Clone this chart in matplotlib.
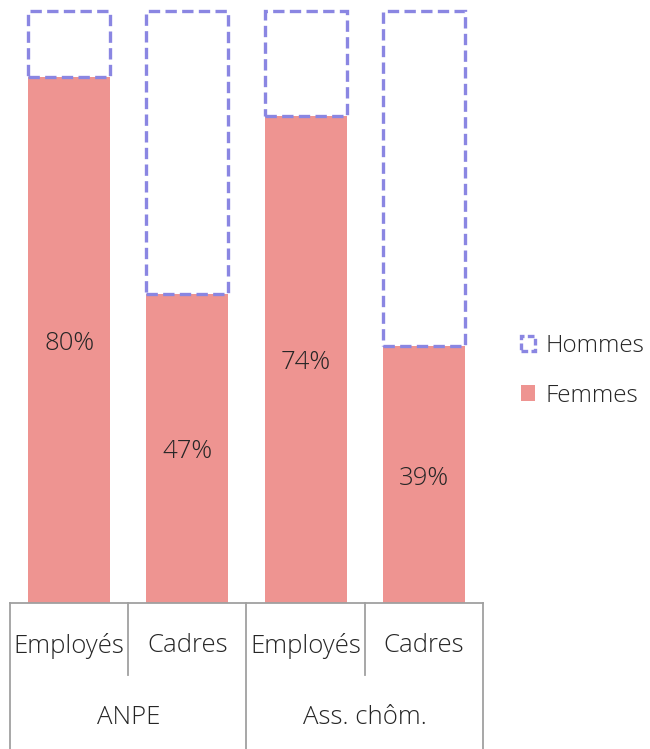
import matplotlib.pyplot as plt
from matplotlib.patches import Patch
from matplotlib.lines import Line2D

groups = ['ANPE', 'Ass. chôm.']
categories = ['Employés', 'Cadres', 'Employés', 'Cadres']
femmes = [0.80, 0.47, 0.74, 0.39]
hommes = [0.20, 0.53, 0.26, 0.61]
femmes_labels = ['80%', '47%', '74%', '39%']

c_fem = '#EE9491'
c_hom = '#8A86E2'
c_grid = '#A0A0A0'
c_text = '#262626'
ymax = 0.9
fs = 18.5

plt.rcParams['font.family'] = ['Open Sans', 'DejaVu Sans']
plt.rcParams['font.weight'] = 'light'

fig = plt.figure(figsize=(6.5, 7.49), dpi=100)
ax = fig.add_axes([10 / 650, 146 / 749, 473 / 650, 592 / 749])

x = range(len(categories))
w = 0.693
ax.bar(x, femmes, width=w, color=c_fem, zorder=2)
for i in x:
    # hommes segment, cut at the top of the axis like the original
    h = min(femmes[i] + hommes[i], ymax) - femmes[i]
    ax.bar(i, h, bottom=femmes[i], width=w, facecolor='none', edgecolor=c_hom,
           linewidth=2.4, linestyle=(0, (3.4, 1.6)), zorder=3, clip_on=False)
    ax.text(i, femmes[i] / 2 - 0.005, femmes_labels[i], ha='center', va='center',
            fontsize=fs, color=c_text)

ax.set_xlim(-0.5, len(categories) - 0.5)
ax.set_ylim(0, ymax)
ax.axis('off')

# two-level category axis
lines = [((-0.5, 3.5), (0, 0)),
         ((-0.5, -0.5), (0, -0.2466)),
         ((3.5, 3.5), (0, -0.2466)),
         ((1.5, 1.5), (0, -0.2466)),
         ((0.5, 0.5), (0, -0.1216)),
         ((2.5, 2.5), (0, -0.1216))]
for xs, ys in lines:
    ax.add_line(Line2D(xs, ys, color=c_grid, lw=1.3, transform=ax.get_xaxis_transform(),
                       clip_on=False, zorder=4))
for i, c in enumerate(categories):
    ax.text(i, -0.0726, c, transform=ax.get_xaxis_transform(), ha='center', va='center',
            fontsize=fs, color=c_text)
for j, g in enumerate(groups):
    ax.text(0.5 + 2 * j, -0.194, g, transform=ax.get_xaxis_transform(), ha='center',
            va='center', fontsize=fs, color=c_text)

handles = [Patch(facecolor='none', edgecolor=c_hom, linewidth=2.4, linestyle=(0, (2, 1)),
                 label='Hommes'),
           Patch(facecolor=c_fem, label='Femmes')]
fig.legend(handles=handles, loc='center left', bbox_to_anchor=(516 / 650, 1 - 371 / 749),
           frameon=False, fontsize=17.5, handlelength=0.6, handleheight=0.6,
           handletextpad=0.4, labelspacing=1.05, labelcolor=c_text,
           borderaxespad=0, borderpad=0.2)

fig.savefig('out.png', dpi=100)
